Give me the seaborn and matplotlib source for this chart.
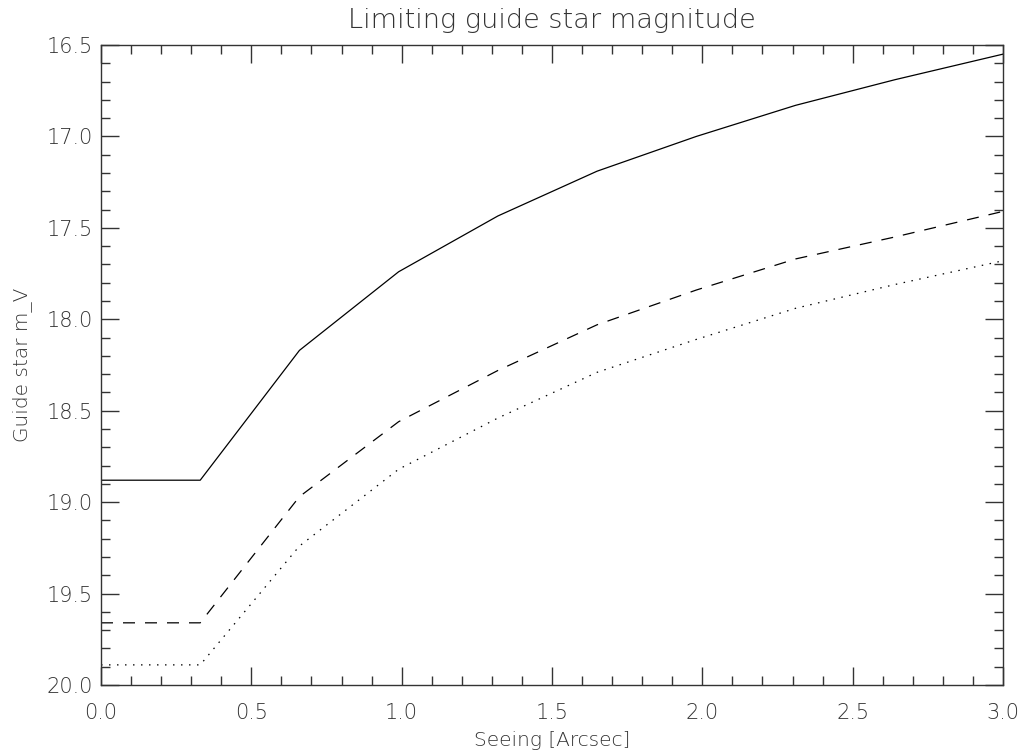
import numpy as np
import pandas as pd
import matplotlib
matplotlib.use("Agg")
import matplotlib.pyplot as plt
import seaborn as sns
from matplotlib.ticker import MultipleLocator, FormatStrFormatter

# Data
seeing = [0.0, 0.33, 0.66, 0.99, 1.32, 1.65, 1.98, 2.31, 2.64, 3.0]
mag_solid = [18.88, 18.88, 18.17, 17.74, 17.435, 17.19, 17.00, 16.83, 16.69, 16.55]
mag_dashed = [19.66, 19.66, 18.97, 18.56, 18.28, 18.03, 17.84, 17.67, 17.55, 17.41]
mag_dotted = [19.89, 19.89, 19.24, 18.82, 18.54, 18.29, 18.11, 17.94, 17.81, 17.68]

title = "Limiting guide star magnitude"
xlabel = "Seeing [Arcsec]"
ylabel = "Guide star m_V"

df = pd.DataFrame({
    "seeing": seeing * 3,
    "mag": mag_solid + mag_dashed + mag_dotted,
    "series": ["solid"] * len(seeing) + ["dashed"] * len(seeing) + ["dotted"] * len(seeing),
})

sns.set_style("ticks")
plt.rcParams["font.family"] = ["DejaVu Sans"]
plt.rcParams["font.weight"] = "light"

lw = 0.9
px = 0.72 / lw  # convert pixels to dash units (points scaled by linewidth)

fig = plt.figure(figsize=(10.22, 7.56), dpi=100)
ax = fig.add_axes([101 / 1022, 71 / 756, 902 / 1022, 640 / 756])

sns.lineplot(
    data=df, x="seeing", y="mag", style="series", ax=ax,
    color="black", linewidth=lw, legend=False,
    dashes={"solid": "", "dashed": (12 * px, 10 * px), "dotted": (1.5 * px, 6.5 * px)},
    estimator=None, sort=False,
)

ax.set_xlim(0.0, 3.0)
ax.set_ylim(20.0, 16.5)
ax.xaxis.set_major_locator(MultipleLocator(0.5))
ax.xaxis.set_minor_locator(MultipleLocator(0.1))
ax.yaxis.set_major_locator(MultipleLocator(0.5))
ax.yaxis.set_minor_locator(MultipleLocator(0.1))
ax.xaxis.set_major_formatter(FormatStrFormatter("%.1f"))
ax.yaxis.set_major_formatter(FormatStrFormatter("%.1f"))

for s in ax.spines.values():
    s.set_visible(True)
    s.set_linewidth(1.0)
    s.set_color("#333333")

ax.tick_params(which="both", direction="in", top=True, right=True,
               color="#333333", width=1.0)
ax.tick_params(which="major", length=13, labelsize=15, labelcolor="#333333")
ax.tick_params(axis="x", which="major", pad=13)
ax.tick_params(axis="y", which="major", pad=6)
ax.tick_params(which="minor", length=6.5)

ax.set_title(title, fontsize=19.5, color="#333333", pad=12, fontweight="light")
ax.set_xlabel(xlabel, fontsize=14.5, color="#333333", labelpad=6, fontweight="light")
ax.set_ylabel(ylabel, fontsize=14.5, color="#333333", labelpad=10, fontweight="light")

fig.savefig("out.png", dpi=100, facecolor="white")
